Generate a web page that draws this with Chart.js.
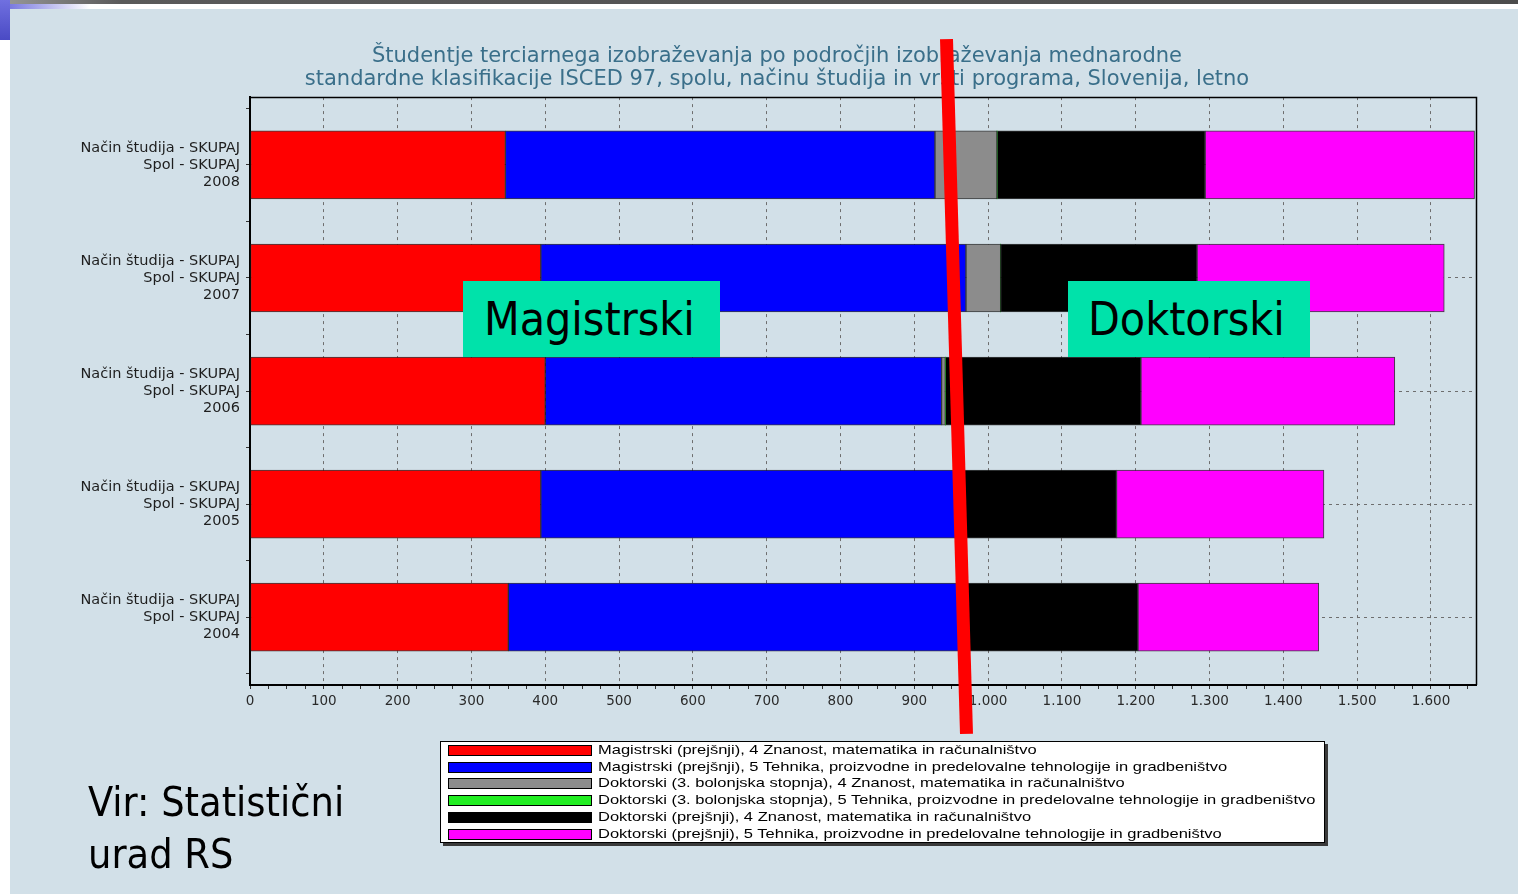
<!DOCTYPE html>
<html>
<head>
<meta charset="utf-8">
<script src="https://cdn.jsdelivr.net/npm/chart.js@4.4.0/dist/chart.umd.min.js"></script>
<style>
  html, body { margin: 0; padding: 0; background: #ffffff; }
  #page { position: relative; width: 1518px; height: 894px; overflow: hidden; background: #ffffff; }
  #bg { position: absolute; left: 10px; top: 9px; right: 0; bottom: 0; background: #d2e0e8; }
  #topbar { position: absolute; left: 0; top: 0; width: 1518px; height: 4px;
            background: linear-gradient(to right, #9a9a9a, #5a5a5a 8%, #4c4c4c); }
  #corner { position: absolute; left: 0; top: 0; width: 10px; height: 40px;
            background: linear-gradient(to bottom, #7070e0, #4a4ac4); }
  #cornerfade { position: absolute; left: 10px; top: 4px; width: 80px; height: 5px;
            background: linear-gradient(to right, #7a7ae0, rgba(255,255,255,0)); }
  #c { position: absolute; left: 0; top: 0; }
  .tag { position: absolute; background: #00e2aa; color: #000;
         font-family: 'DejaVu Sans Condensed', 'DejaVu Sans', sans-serif; font-stretch: condensed;
         font-size: 46px; line-height: 76px; height: 76px; box-sizing: border-box; white-space: nowrap; }
  #tagMag { left: 463px; top: 281px; width: 257px; padding-left: 21px; }
  #tagDok { left: 1068px; top: 281px; width: 242px; padding-left: 20px; }
  #redline { position: absolute; left: 949.5px; top: 39px; width: 13px; height: 695px; background: #ff0000;
             transform-origin: 50% 50%; transform: rotate(-1.65deg); }
  #source { position: absolute; left: 88px; top: 776px; font-family: 'DejaVu Sans Condensed', 'DejaVu Sans', sans-serif;
            font-stretch: condensed; font-size: 41px; line-height: 52px; color: #000; }
  #legend { position: absolute; left: 440px; top: 741px; width: 885px; height: 102px; box-sizing: border-box;
            background: #ffffff; border: 1px solid #000; box-shadow: 3px 3px 0 #3a3a3a; }
  .lrow { position: absolute; left: 0; height: 16px; width: 100%; }
  .lsw { position: absolute; left: 7px; top: 3px; width: 144px; height: 11px; box-sizing: border-box; border: 1px solid #000; }
  .ltx { position: absolute; left: 157px; top: 0; font-family: 'Liberation Sans', Arial, sans-serif; font-size: 13px;
         line-height: 16px; color: #000; white-space: nowrap; transform-origin: 0 50%; transform: scaleX(1.27); }
</style>
</head>
<body>
<div id="page">
  <div id="bg"></div>
  <div id="topbar"></div>
  <div id="corner"></div>
  <div id="cornerfade"></div>
  <canvas id="c" width="1518" height="894"></canvas>
  <div class="tag" id="tagMag">Magistrski</div>
  <div class="tag" id="tagDok">Doktorski</div>
  <div id="redline"></div>
  <div id="legend"></div>
  <div id="source">Vir: Statistični<br>urad RS</div>
</div>
<script>
// ---------- data ----------
const years = ['2008', '2007', '2006', '2005', '2004'];
const rowLabelLines = ['Način študija - SKUPAJ', 'Spol - SKUPAJ'];
const titleLines = [
  'Študentje terciarnega izobraževanja po področjih izobraževanja mednarodne',
  'standardne klasifikacije ISCED 97, spolu, načinu študija in vrsti programa, Slovenija, letno'
];
const seriesNames = [
  'Magistrski (prejšnji), 4 Znanost, matematika in računalništvo',
  'Magistrski (prejšnji), 5 Tehnika, proizvodne in predelovalne tehnologije in gradbeništvo',
  'Doktorski (3. bolonjska stopnja), 4 Znanost, matematika in računalništvo',
  'Doktorski (3. bolonjska stopnja), 5 Tehnika, proizvodne in predelovalne tehnologije in gradbeništvo',
  'Doktorski (prejšnji), 4 Znanost, matematika in računalništvo',
  'Doktorski (prejšnji), 5 Tehnika, proizvodne in predelovalne tehnologije in gradbeništvo'
];
const seriesColors = ['#ff0000', '#0000ff', '#8c8c8c', '#22ee22', '#000000', '#ff00ff'];
const magZnanost    = [346, 394, 400, 394, 350];
const magTehnika    = [582, 576, 537, 571, 616];
const dokBolZnanost = [84, 47, 5, 0, 0];
const dokBolTehnika = [0, 0, 0, 0, 0];
const dokZnanost    = [282, 266, 265, 209, 237];
const dokTehnika    = [365, 335, 344, 281, 245];
const seriesValues = [magZnanost, magTehnika, dokBolZnanost, dokBolTehnika, dokZnanost, dokTehnika];

const xMajorTicks = [0, 100, 200, 300, 400, 500, 600, 700, 800, 900, 1000, 1100, 1200, 1300, 1400, 1500, 1600];
const xTickLabels = ['0', '100', '200', '300', '400', '500', '600', '700', '800', '900',
                     '1.000', '1.100', '1.200', '1.300', '1.400', '1.500', '1.600'];
const xMinorStep = 25;
const xMax = 1661;

// ---------- chart ----------
const datasets = seriesValues.map((vals, s) => ({
  label: seriesNames[s],
  data: vals.map((v, i) => ({ x: v, y: i })),
  backgroundColor: seriesColors[s],
  borderColor: 'rgba(20,20,20,0.8)',
  borderWidth: (ctx) => (ctx.raw && ctx.raw.x > 0 ? 1 : 0),
  borderSkipped: false,
  barThickness: 68
}));

const framePlugin = {
  id: 'frame',
  afterDatasetsDraw(chart) {
    const a = chart.chartArea, ctx = chart.ctx;
    ctx.save();
    ctx.strokeStyle = '#000';
    ctx.lineWidth = 1.5;
    ctx.beginPath();
    ctx.moveTo(a.left, a.top + 0.5);
    ctx.lineTo(a.right + 0.5, a.top + 0.5);
    ctx.lineTo(a.right + 0.5, a.bottom);
    ctx.stroke();
    ctx.restore();
  }
};

const chart = new Chart(document.getElementById('c'), {
  type: 'bar',
  data: { datasets },
  plugins: [framePlugin],
  options: {
    indexAxis: 'y',
    responsive: false,
    animation: false,
    layout: { padding: { left: 78, right: 42, top: 0, bottom: 179 } },
    plugins: {
      legend: { display: false },
      tooltip: { enabled: false },
      title: {
        display: true,
        text: titleLines,
        color: '#3a6f8a',
        font: { family: "'DejaVu Sans', sans-serif", size: 21, weight: 'normal', lineHeight: 1.05 },
        padding: { top: 46, bottom: 7 }
      }
    },
    scales: {
      x: {
        type: 'linear',
        stacked: true,
        min: 0,
        max: xMax,
        afterFit: (s) => { s.height = 30; },
        afterBuildTicks: (s) => {
          const t = [];
          for (let v = 0; v <= xMax; v += xMinorStep) t.push({ value: v });
          s.ticks = t;
        },
        ticks: {
          autoSkip: false,
          maxRotation: 0,
          padding: 4,
          color: '#2a2a2a',
          font: { family: "'DejaVu Sans', sans-serif", size: 13.5 },
          callback: (v) => {
            const k = xMajorTicks.indexOf(v);
            return k >= 0 ? xTickLabels[k] : '';
          }
        },
        grid: {
          offset: false,
          drawOnChartArea: true,
          color: (c) => (c.tick && c.tick.value > 0 && xMajorTicks.includes(c.tick.value)) ? '#6e6e6e' : 'rgba(0,0,0,0)',
          lineWidth: 1,
          tickLength: 4,
          tickColor: '#333',
          tickBorderDash: [],
          tickWidth: 1
        },
        border: { display: true, color: '#000', width: 2, dash: [3, 4] }
      },
      y: {
        type: 'linear',
        stacked: true,
        reverse: true,
        offset: false,
        min: -0.6,
        max: 4.6,
        afterFit: (s) => { s.width = 172; },
        afterBuildTicks: (s) => {
          const t = [];
          for (let v = -0.5; v <= 4.5; v += 0.5) t.push({ value: v });
          s.ticks = t;
        },
        ticks: {
          autoSkip: false,
          padding: 6,
          color: '#1e1e1e',
          font: { family: "'DejaVu Sans', sans-serif", size: 14.5, lineHeight: 1.17 },
          callback: (v) => (Number.isInteger(v) && v >= 0 && v < years.length)
            ? [rowLabelLines[0], rowLabelLines[1], years[v]] : ''
        },
        grid: {
          offset: false,
          color: (c) => (c.tick && Number.isInteger(c.tick.value) && c.tick.value >= 0) ? '#6e6e6e' : 'rgba(0,0,0,0)',
          tickLength: 4,
          tickColor: '#333',
          tickBorderDash: [],
          tickWidth: 1
        },
        border: { display: true, color: '#000', width: 2, dash: [3, 4] }
      }
    }
  }
});

// ---------- HTML legend built from the chart's datasets ----------
const legendEl = document.getElementById('legend');
chart.data.datasets.forEach((ds, i) => {
  const row = document.createElement('div');
  row.className = 'lrow';
  row.style.top = (i * 16.7) + 'px';
  const sw = document.createElement('div');
  sw.className = 'lsw';
  sw.style.background = ds.backgroundColor;
  const tx = document.createElement('div');
  tx.className = 'ltx';
  tx.textContent = ds.label;
  row.appendChild(sw);
  row.appendChild(tx);
  legendEl.appendChild(row);
});
</script>
</body>
</html>
